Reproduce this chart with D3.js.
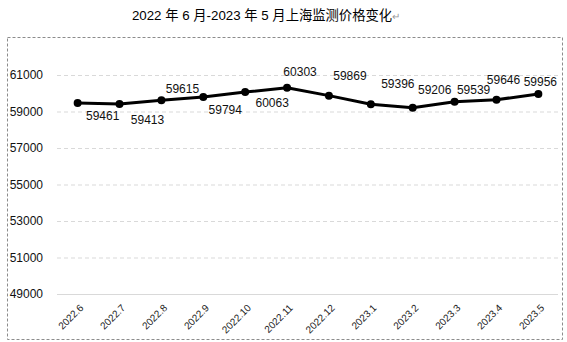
<!DOCTYPE html>
<html><head><meta charset="utf-8">
<script src="https://cdn.jsdelivr.net/npm/d3@7"></script>
<style>
html,body{margin:0;padding:0;background:#fff;}
svg{display:block;}
</style></head>
<body>
<svg id="c" width="567" height="342"></svg>
<script>
const title = "2022 年 6 月-2023 年 5 月上海监测价格变化";
const categories = ["2022.6","2022.7","2022.8","2022.9","2022.10","2022.11","2022.12","2023.1","2023.2","2023.3","2023.4","2023.5"];
const values = [59461,59413,59615,59794,60063,60303,59869,59396,59206,59539,59646,59956];
const yTicks = [49000,51000,53000,55000,57000,59000,61000];
// label placement offsets (dx, dy) relative to each point, as in the original
const labelOffsets = [[25,13],[28,16],[21,-11],[22,13],[27,11],[13,-16],[21,-20],[27,-20],[22,-18],[19,-12],[7,-20],[2,-12]];

const svg = d3.select("#c");
const font = "'Liberation Sans', 'Noto Sans CJK SC', sans-serif";

// outer dashed frame
svg.append("rect").attr("x",7.5).attr("y",37.5).attr("width",555).attr("height",302)
  .attr("fill","none").attr("stroke","#8c8c8c").attr("stroke-width",1).attr("stroke-dasharray","3,2");

// title
const t = svg.append("text").attr("x",266).attr("y",20).attr("text-anchor","middle")
  .attr("font-family",font).attr("font-size",13.3).attr("fill","#000").text(title);
t.append("tspan").attr("fill","#999").attr("font-size",10).text("↵");

const x = d3.scaleBand().domain(categories).range([56.7,559.3]);
const y = d3.scaleLinear().domain([49000,61000]).range([294,75]);

// gridlines
svg.append("g").selectAll("line").data(yTicks.filter(d=>d!==49000)).join("line")
  .attr("x1",57).attr("x2",558).attr("y1",d=>y(d)+0.5).attr("y2",d=>y(d)+0.5)
  .attr("stroke","#d9d9d9").attr("stroke-dasharray","4,3");
// baseline
svg.append("line").attr("x1",57).attr("x2",558).attr("y1",y(49000)+0.5).attr("y2",y(49000)+0.5)
  .attr("stroke","#d9d9d9").attr("stroke-width",1);

// y axis labels
const yAxis = d3.axisLeft(y).tickValues(yTicks).tickSize(0).tickPadding(0).tickFormat(d3.format("d"));
const gy = svg.append("g").attr("transform","translate(43,0)").call(yAxis);
gy.select(".domain").remove();
gy.selectAll("text").attr("font-family",font).attr("font-size",12).attr("fill","#111");

// x axis labels
const xAxis = d3.axisBottom(x).tickSize(0).tickPadding(0);
const gx = svg.append("g").attr("transform","translate(0,300)").call(xAxis);
gx.select(".domain").remove();
gx.selectAll("text").attr("font-family",font).attr("font-size",10).attr("fill","#222")
  .attr("text-anchor","end").attr("dy","0.35em")
  .attr("transform","translate(4,6) rotate(-45)");

// line
const cx = (d,i)=>x(categories[i])+x.bandwidth()/2;
const line = d3.line().x((d,i)=>cx(d,i)).y(d=>y(d));
svg.append("path").datum(values).attr("d",line).attr("fill","none")
  .attr("stroke","#000").attr("stroke-width",3).attr("stroke-linejoin","round");
svg.append("g").selectAll("circle").data(values).join("circle")
  .attr("cx",cx).attr("cy",d=>y(d)).attr("r",4).attr("fill","#000");

// data labels
svg.append("g").selectAll("text").data(values).join("text")
  .attr("x",(d,i)=>cx(d,i)+labelOffsets[i][0])
  .attr("y",(d,i)=>y(d)+labelOffsets[i][1])
  .attr("dy","0.35em").attr("text-anchor","middle")
  .attr("font-family",font).attr("font-size",12).attr("fill","#111")
  .text(d=>d);
</script>
</body></html>
